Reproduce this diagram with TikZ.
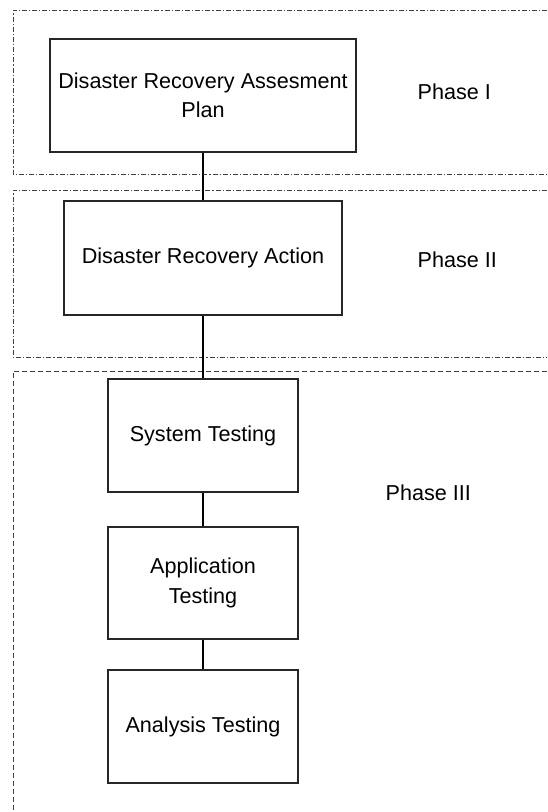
\documentclass[tikz,border=0pt]{standalone}
\usepackage{fontspec}
\setmainfont{Liberation Sans}

\begin{document}
\begin{tikzpicture}[
    x=0.75pt, y=-0.75pt,
    font=\fontsize{16.2}{22}\selectfont,
    text centered,
	block/.style={
	  rectangle,
	  draw=black!85,
	  line width=0.8pt,
	  align=center,
	  inner sep=0pt
	},
	phase/.style={
	  draw=black!75,
	  line width=0.6pt,
	  dash pattern=on 3.75pt off 1.5pt on 0.9pt off 1.5pt
	},
	phasedash/.style={
	  draw=black!75,
	  line width=0.6pt,
	  dash pattern=on 3.75pt off 2.25pt
	},
	phasetext/.style={anchor=west},
 	line/.style={draw, line width=1pt}
	]
	\useasboundingbox (0, 0) rectangle (547, 812);
	% phase frames
	\path[phase] (547, 10) -| (13, 174) -- (547, 174);
	\path[phase] (547, 190) -| (13, 357) -- (547, 357);
	\path[phasedash] (547, 371) -| (13, 812);
	\node [phasetext] at (413, 92) (phaseone) {Phase I};
	\node [phasetext] at (413, 260) (phasetwo) {Phase II};
	\node [phasetext] at (381, 493) (phasethree) {Phase III};
	% steps
	\node [block, minimum width=229.5pt, minimum height=84.75pt] at (203, 95.5) (assess) {Disaster Recovery Assesment\\Plan};
	\node [block, minimum width=208.5pt, minimum height=85.5pt] at (203, 258) (action) {Disaster Recovery Action};
	\node [block, minimum width=142.5pt, minimum height=84.75pt] at (203, 435.5) (system) {System Testing};
	\node [block, minimum width=142.5pt, minimum height=84pt] at (203, 583) (application) {Application\\Testing};
	\node [block, minimum width=142.5pt, minimum height=84.75pt] at (203, 726.5) (analysis) {Analysis Testing};
	\path[line] (assess) -- (action);
	\path[line] (action) -- (system);
	\path[line] (system) -- (application);
	\path[line] (application) -- (analysis);
  \end{tikzpicture}
\end{document}
